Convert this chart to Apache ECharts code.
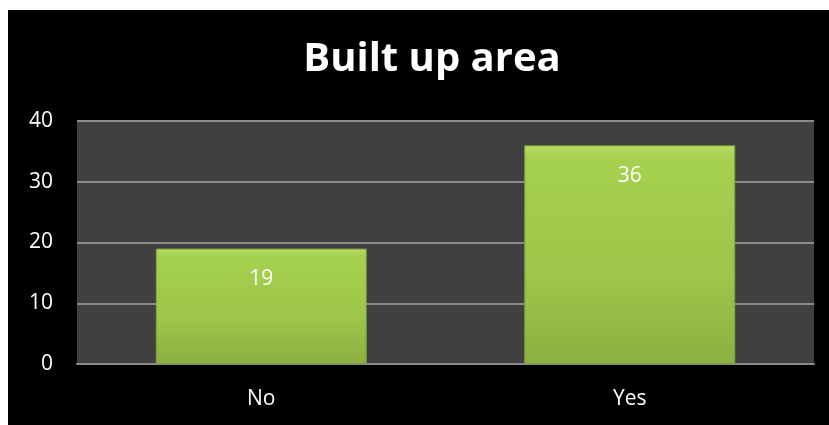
<!DOCTYPE html>
<html>
<head>
<meta charset="utf-8">
<script src="https://cdn.jsdelivr.net/npm/echarts@6/dist/echarts.min.js"></script>
<style>
  html, body { margin: 0; padding: 0; background: #ffffff; }
  #chart { position: absolute; left: 8px; top: 10px; width: 821px; height: 415px; }
</style>
</head>
<body>
<div id="chart"></div>
<script>
// Survey answers: is the plot in a built up area?
const categories = ['No', 'Yes'];
const counts = [19, 36];
const yTicks = { min: 0, max: 40, interval: 10 };

const chart = echarts.init(document.getElementById('chart'));

const barFill = new echarts.graphic.LinearGradient(0, 0, 0, 1, [
  { offset: 0, color: '#b8dc66' },
  { offset: 0.06, color: '#a6d04f' },
  { offset: 0.6, color: '#9dc64a' },
  { offset: 1, color: '#8cb041' }
]);

chart.setOption({
  backgroundColor: '#000000',
  animation: false,
  title: {
    text: 'Built up area',
    left: 419,
    top: 25,
    textAlign: 'center',
    textStyle: {
      color: '#ffffff',
      fontFamily: 'Open Sans',
      fontWeight: 'bold',
      fontSize: 40
    }
  },
  grid: {
    left: 69,
    top: 111,
    width: 737,
    height: 243,
    show: true,
    backgroundColor: '#404040',
    borderWidth: 0
  },
  xAxis: {
    type: 'category',
    data: categories,
    axisTick: { show: false },
    axisLine: { show: true, lineStyle: { color: '#8a8a8a', width: 2 } },
    axisLabel: {
      color: '#ffffff',
      fontFamily: 'Open Sans',
      fontSize: 21,
      margin: 25
    }
  },
  yAxis: {
    type: 'value',
    min: yTicks.min,
    max: yTicks.max,
    interval: yTicks.interval,
    axisLine: { show: false },
    axisTick: { show: false },
    splitLine: { show: true, lineStyle: { color: '#8a8a8a', width: 2 } },
    axisLabel: {
      color: '#ffffff',
      fontFamily: 'Open Sans',
      fontSize: 21,
      margin: 24
    }
  },
  series: [{
    type: 'bar',
    data: counts,
    barWidth: 211,
    itemStyle: {
      color: barFill,
      borderColor: '#7f9f3a',
      borderWidth: 1
    },
    label: {
      show: true,
      position: 'insideTop',
      distance: 20,
      color: '#ffffff',
      fontFamily: 'Open Sans',
      fontSize: 21
    }
  }]
});
</script>
</body>
</html>
